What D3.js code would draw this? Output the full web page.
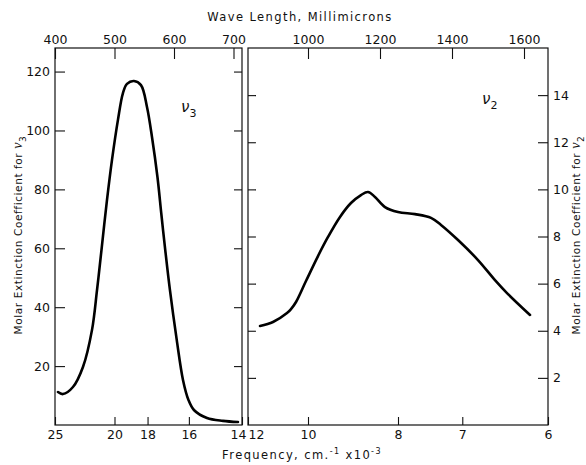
<!DOCTYPE html>
<html>
<head>
<meta charset="utf-8">
<script src="https://cdn.jsdelivr.net/npm/d3@7"></script>
<style>
  body { margin: 0; background: #fff; }
  svg text { font-family: "DejaVu Sans", sans-serif; fill: #111; }
</style>
</head>
<body>
<div id="grafico"></div>
<script>
// ν3 band: wavelength (millimicrons) and molar extinction coefficient
const lambdaNu3 = [405, 413.4, 430.2, 447, 462.2, 470.6, 478.1, 487.4, 495.8, 505.8, 514.2, 521, 532.7, 544.5, 554.6, 563, 572.2, 578.9, 585.3, 593.2, 604.6, 615.1, 624.3, 633.5, 655.4, 682.3, 707.5];
const epsNu3 = [11.2, 10.5, 12.9, 19.7, 32.3, 45.8, 59.4, 76.4, 90.0, 103.6, 112.7, 115.8, 116.8, 115.4, 108.0, 97.8, 84.2, 71.3, 59.4, 45.8, 28.9, 15.3, 8.5, 5.1, 2.4, 1.4, 1.0];

// ν2 band
const lambdaNu2 = [866.7, 902.8, 941.7, 952.8, 966.7, 994.4, 1027.8, 1055.6, 1088.9, 1119.4, 1147.2, 1166.7, 1186.1, 1213.9, 1250, 1297.2, 1341.7, 1369.4, 1416.7, 1472.2, 1519.4, 1552.8, 1616.7];
const epsNu2 = [4.20, 4.37, 4.75, 4.92, 5.22, 6.11, 7.17, 7.98, 8.83, 9.42, 9.76, 9.89, 9.68, 9.25, 9.04, 8.95, 8.79, 8.49, 7.85, 7.0, 6.15, 5.6, 4.67];

// eixos
const topTicksEsq = [400, 500, 600, 700];
const topTicksDir = [1000, 1200, 1400, 1600];
const freqTicksEsq = [25, 20, 18, 16, 14];
const freqTicksDir = [12, 10, 8, 7, 6];
const yTicksEsq = [20, 40, 60, 80, 100, 120];
const yTicksDir = [2, 4, 6, 8, 10, 12, 14];

const width = 586;
const height = 465;
const topo = 48, base = 425;

const svg = d3.select("#grafico")
    .append("svg")
    .attr("width", width)
    .attr("height", height);

// escalas (x linear em comprimento de onda)
const xEsq = d3.scaleLinear().domain([400, 1e4 / 14]).range([55, 242]);
const xDir = d3.scaleLinear().domain([1e4 / 12, 1e4 / 6]).range([248, 548]);
const yEsq = d3.scaleLinear().domain([0, 128]).range([base, topo]);
const yDir = d3.scaleLinear().domain([0, 16]).range([base, topo]);

function painel(x, y, topTicks, freqTicks, lambdas, eps, ladoY, yTicks) {
    const g = svg.append("g");
    const [x0, x1] = x.range();

    // moldura
    g.append("rect")
        .attr("x", x0).attr("y", topo)
        .attr("width", x1 - x0).attr("height", base - topo)
        .attr("fill", "none").attr("stroke", "#111").attr("stroke-width", 1.2);

    // eixo superior (comprimento de onda)
    g.append("g")
        .attr("transform", `translate(0,${topo})`)
        .call(d3.axisTop(x).tickValues(topTicks).tickFormat(d3.format("d"))
            .tickSizeInner(-11).tickSizeOuter(0).tickPadding(4))
        .call(a => a.select(".domain").remove())
        .call(a => a.selectAll("text").attr("font-size", 12.5));

    // eixo inferior (frequência)
    g.append("g")
        .attr("class", "freq")
        .attr("transform", `translate(0,${base})`)
        .call(d3.axisBottom(x).tickValues(freqTicks.map(f => 1e4 / f)).tickFormat((d, i) => freqTicks[i])
            .tickSizeInner(-8).tickSizeOuter(0).tickPadding(5))
        .call(a => a.select(".domain").remove())
        .call(a => a.selectAll("text").attr("font-size", 12.5));

    // eixos y (ticks para dentro dos dois lados)
    const eixoLab = ladoY === "esq" ? d3.axisLeft(y) : d3.axisRight(y);
    const xLab = ladoY === "esq" ? x0 : x1;
    g.append("g")
        .attr("transform", `translate(${xLab},0)`)
        .call(eixoLab.tickValues(yTicks).tickSizeInner(-10).tickSizeOuter(0).tickPadding(5).tickFormat(d3.format("d")))
        .call(a => a.select(".domain").remove())
        .call(a => a.selectAll("text").attr("font-size", 12.5));
    const xOposto = ladoY === "esq" ? x1 : x0;
    const eixoOp = ladoY === "esq" ? d3.axisRight(y) : d3.axisLeft(y);
    g.append("g")
        .attr("transform", `translate(${xOposto},0)`)
        .call(eixoOp.tickValues(yTicks).tickSizeInner(-8).tickSizeOuter(0).tickFormat(""))
        .call(a => a.select(".domain").remove());

    g.selectAll(".tick line").attr("stroke", "#111").attr("stroke-width", 1.1);

    // curva
    const pontos = lambdas.map((l, i) => [l, eps[i]]);
    g.append("path")
        .datum(pontos)
        .attr("fill", "none")
        .attr("stroke", "#000")
        .attr("stroke-width", 2.6)
        .attr("stroke-linecap", "round")
        .attr("d", d3.line().x(d => x(d[0])).y(d => y(d[1])).curve(d3.curveCatmullRom.alpha(0.5)));
    return g;
}

const gEsq = painel(xEsq, yEsq, topTicksEsq, freqTicksEsq, lambdaNu3, epsNu3, "esq", yTicksEsq);
const gDir = painel(xDir, yDir, topTicksDir, freqTicksDir, lambdaNu2, epsNu2, "dir", yTicksDir);

// "14" e "12" se encostam no meio
gEsq.selectAll(".freq .tick text").filter((d, i) => i === freqTicksEsq.length - 1).attr("dx", -4);
gDir.selectAll(".freq .tick text").filter((d, i) => i === 0).attr("dx", 8);

// rótulos das bandas
function nu(xp, yp, sub) {
    const t = svg.append("text").attr("x", xp).attr("y", yp)
        .attr("font-size", 15).attr("font-style", "italic").attr("font-family", "Liberation Serif, serif");
    t.append("tspan").text("ν");
    t.append("tspan").attr("font-size", 11).attr("dy", 5).attr("font-style", "normal")
        .attr("font-family", "DejaVu Sans, sans-serif").text(sub);
}
nu(181, 112, "3");
nu(482, 104, "2");

// títulos
svg.append("text")
    .attr("x", 300).attr("y", 21)
    .attr("text-anchor", "middle").attr("font-size", 11.5).attr("letter-spacing", 1.4)
    .text("Wave Length, Millimicrons");

const tFreq = svg.append("text")
    .attr("x", 302).attr("y", 459)
    .attr("text-anchor", "middle").attr("font-size", 11.5).attr("letter-spacing", 1.4);
tFreq.append("tspan").text("Frequency, cm.");
tFreq.append("tspan").attr("font-size", 8).attr("dy", -5).text("-1");
tFreq.append("tspan").attr("dy", 5).text(" x10");
tFreq.append("tspan").attr("font-size", 8).attr("dy", -5).text("-3");

function tituloY(xp, sub) {
    const t = svg.append("text")
        .attr("transform", `translate(${xp},235) rotate(-90)`)
        .attr("text-anchor", "middle").attr("font-size", 10.5).attr("letter-spacing", 0.6);
    t.append("tspan").text("Molar Extinction Coefficient for ");
    t.append("tspan").attr("font-size", 14).attr("font-style", "italic").attr("font-family", "Liberation Serif, serif").text("ν");
    t.append("tspan").attr("font-size", 9).attr("dy", 4).text(sub);
}
tituloY(22, "3");
tituloY(580, "2");
</script>
</body>
</html>
